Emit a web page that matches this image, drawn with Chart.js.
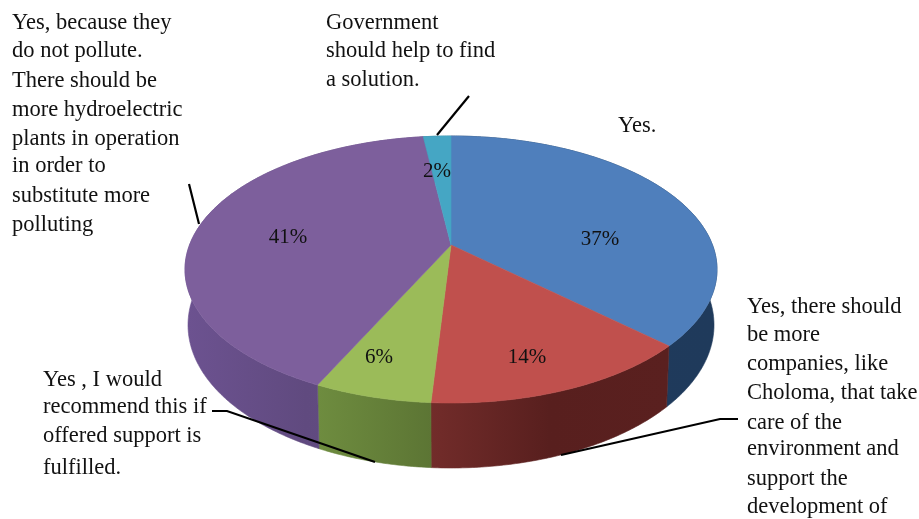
<!DOCTYPE html>
<html>
<head>
<meta charset="utf-8">
<style>
  html, body { margin: 0; padding: 0; background: #fff; }
  canvas { display: block; }
</style>
<script src="https://cdn.jsdelivr.net/npm/chart.js@4"></script>
</head>
<body>
<canvas id="pie" width="919" height="519"></canvas>
<script>
const categories = [
  'Yes.',
  'Yes, there should be more companies, like Choloma',
  'Yes , I would recommend this if offered support is fulfilled.',
  'Yes, because they do not pollute.',
  'Government should help to find a solution.'
]
const shares = [37, 14, 6, 41, 2]

const topColors = ['#4f7fbc', '#c0504d', '#9bbb59', '#7d5f9c', '#45a6c4']
const sideColors = [
  ['#1f3b5d', '#1f3a5b'],
  ['#722c2a', '#581f1e', '#5a201f'],
  ['#6e8c3f', '#5c7534'],
  ['#6c5290', '#604a7f', '#674e87'],
  ['#2a6f85', '#2a6f85']
]

// outer rim of the top face and of the bottom face
const topRim = {cx: 451, cy: 269.5, rx: 266, ry: 133.5}
const bottomRim = {cx: 451, cy: 325, rx: 263, ry: 143}
// perspective pushes the pie centre up from the middle of the ellipse
const tilt = 0.1835

const textBlocks = [
  {x: 12, lines: [
    ['Yes, because they', 29], ['do not pollute.', 57], ['There should be', 87],
    ['more hydroelectric', 116], ['plants in operation', 145], ['in order to', 172],
    ['substitute more', 202], ['polluting', 231]
  ]},
  {x: 326, lines: [['Government', 29], ['should help to find', 57], ['a solution.', 86]]},
  {x: 618, lines: [['Yes.', 132]]},
  {x: 747, lines: [
    ['Yes, there should', 313], ['be more', 341], ['companies, like', 370],
    ['Choloma, that take', 399], ['care of the', 429], ['environment and', 455],
    ['support the', 485], ['development of', 513]
  ]},
  {x: 43, lines: [
    ['Yes , I would', 386], ['recommend this if', 413], ['offered support is', 442], ['fulfilled.', 474]
  ]}
]

const leaders = [
  [[437, 135], [469, 96]],
  [[189, 184], [199, 224]],
  [[212, 411], [227, 411], [375, 462]],
  [[738, 419], [720, 419], [561, 455]]
]

// where each percentage sits, same order as shares
const percentAt = [[600, 245], [527, 363], [379, 363], [288, 243], [437, 177]]

function project(angle, rim) {
  const X = Math.cos(angle), Y = Math.sin(angle)
  const d = 1 - tilt * Y
  return [
    rim.cx + rim.rx * X * Math.sqrt(1 - tilt * tilt) / d,
    rim.cy + rim.ry * (Y - tilt) / d
  ]
}

function rimPoints(start, end, rim) {
  const steps = Math.max(2, Math.ceil((end - start) / 0.01))
  const pts = []
  for (let i = 0; i <= steps; i++) pts.push(project(start + (end - start) * i / steps, rim))
  return pts
}

function fillPath(ctx, pts, fill) {
  ctx.beginPath()
  pts.forEach((p, i) => i ? ctx.lineTo(p[0], p[1]) : ctx.moveTo(p[0], p[1]))
  ctx.closePath()
  ctx.fillStyle = fill
  ctx.strokeStyle = fill
  ctx.lineWidth = 0.6
  ctx.fill()
  ctx.stroke()
}

const pie3d = {
  id: 'pie3d',
  beforeDatasetDraw(chart) {
    const ctx = chart.ctx
    const arcs = chart.getDatasetMeta(0).data
    const apex = [topRim.cx, topRim.cy - topRim.ry * tilt]

    // walls first, the top face then covers the back half
    arcs.forEach((arc, i) => {
      const up = rimPoints(arc.startAngle, arc.endAngle, topRim)
      const down = rimPoints(arc.startAngle, arc.endAngle, bottomRim)
      const xs = down.map(p => p[0])
      const grad = ctx.createLinearGradient(Math.min(...xs), 0, Math.max(...xs) + 1, 0)
      sideColors[i].forEach((c, k) => grad.addColorStop(k / (sideColors[i].length - 1), c))
      fillPath(ctx, up.concat(down.reverse()), grad)
    })
    arcs.forEach((arc, i) => {
      fillPath(ctx, [apex].concat(rimPoints(arc.startAngle, arc.endAngle, topRim)), topColors[i])
    })
    return false
  },
  afterDatasetsDraw(chart) {
    const ctx = chart.ctx
    ctx.save()
    ctx.strokeStyle = '#000'
    ctx.lineWidth = 2.2
    leaders.forEach(line => {
      ctx.beginPath()
      line.forEach((p, i) => i ? ctx.lineTo(p[0], p[1]) : ctx.moveTo(p[0], p[1]))
      ctx.stroke()
    })

    ctx.fillStyle = '#111'
    ctx.font = '22.5px "Liberation Serif"'
    ctx.textBaseline = 'alphabetic'
    ctx.textAlign = 'left'
    textBlocks.forEach(block => {
      block.lines.forEach(l => ctx.fillText(l[0], block.x, l[1]))
    })
    ctx.font = '21px "Liberation Serif"'
    ctx.textAlign = 'center'
    shares.forEach((v, i) => ctx.fillText(v + '%', percentAt[i][0], percentAt[i][1]))
    ctx.restore()
  }
}

new Chart(document.getElementById('pie'), {
  type: 'pie',
  data: {
    labels: categories,
    datasets: [{data: shares, backgroundColor: topColors, borderWidth: 0}]
  },
  options: {
    responsive: false,
    animation: false,
    rotation: 0,
    plugins: {legend: {display: false}, tooltip: {enabled: false}}
  },
  plugins: [pie3d]
})
</script>
</body>
</html>
